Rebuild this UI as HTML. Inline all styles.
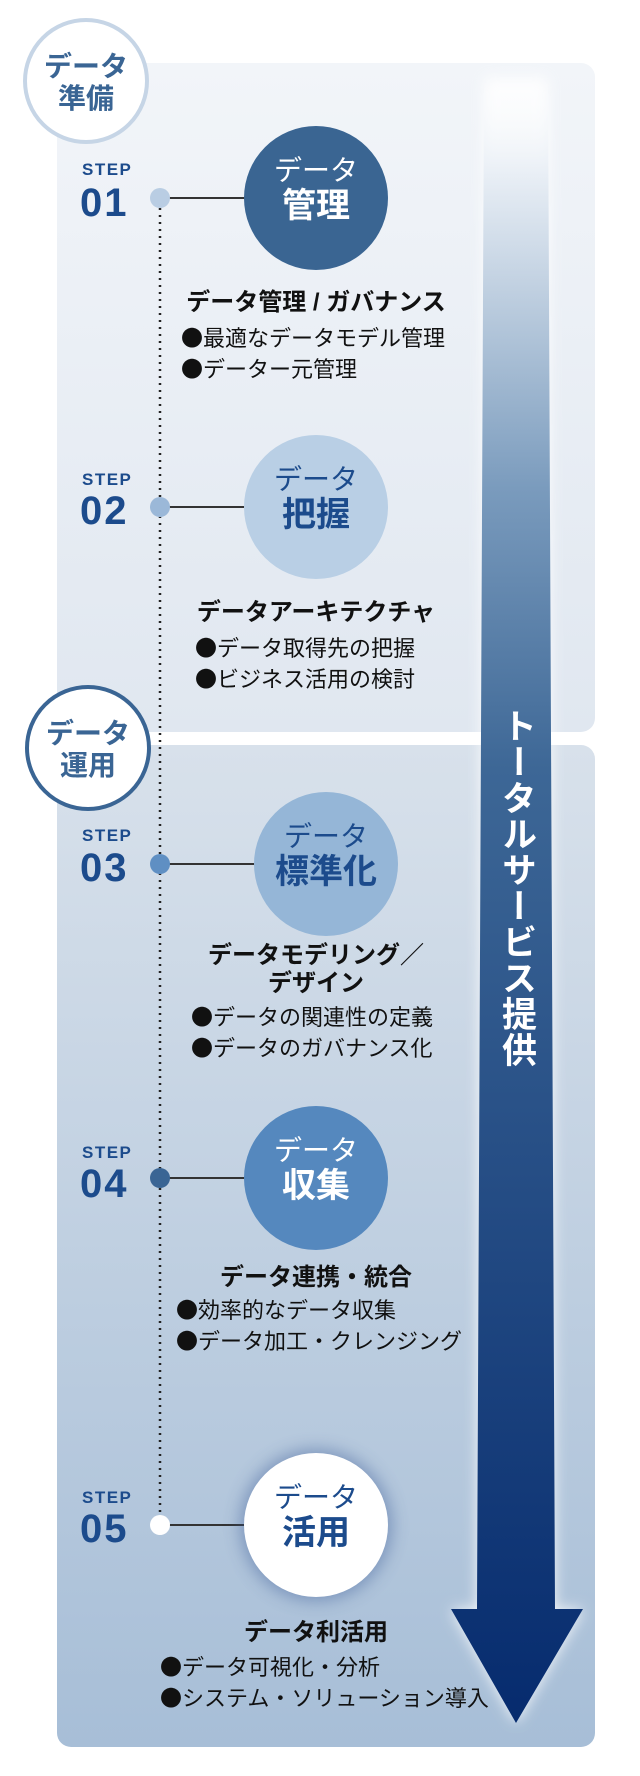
<!DOCTYPE html>
<html><head><meta charset="utf-8"><style>
*{margin:0;padding:0;box-sizing:border-box}
body{width:640px;height:1776px;background:#fff;position:relative;overflow:hidden;font-family:"Liberation Sans","Noto Sans CJK JP",sans-serif}
.a{position:absolute}
.p1{left:57px;top:63px;width:538px;height:669px;border-radius:14px;background:linear-gradient(#f2f5f9,#e0e7f0)}
.p2{left:57px;top:745px;width:538px;height:1002px;border-radius:14px;background:linear-gradient(#d8e1eb,#a7bed7)}
.lab{width:126px;height:126px;border-radius:50%;background:#fff;text-align:center;font-weight:bold;font-size:28px;line-height:32px;padding-top:29px}
.step{left:82px;font-size:17px;font-weight:bold;color:#1c4b8c;letter-spacing:1.5px}
.num{left:80px;font-size:40px;font-weight:bold;color:#1c4b8c;letter-spacing:2px;line-height:40px}
.dot{width:20px;height:20px;border-radius:50%;left:150px}
.ln{height:2px;background:#333;left:165px}
.c{width:144px;height:144px;border-radius:50%;text-align:center;font-weight:bold}
.c .t1{font-size:28px;line-height:30px;margin-top:30px;font-weight:normal}
.c .t2{font-size:34px;line-height:40px}
.h{font-size:24px;font-weight:bold;color:#111;text-align:center;width:400px;left:116px;line-height:28px}
.b{font-size:22px;color:#111;line-height:31px;white-space:nowrap;font-family:"Noto Sans CJK JP",sans-serif}
</style></head><body>
<div class="a p1"></div>
<div class="a p2"></div>

<svg class="a" style="left:0;top:0" width="640" height="1776">
<defs>
<linearGradient id="g" x1="0" y1="0" x2="0" y2="1">
<stop offset="0" stop-color="#fff" stop-opacity="0"/>
<stop offset="0.06" stop-color="#e8eef5"/>
<stop offset="0.25" stop-color="#7a9bbd"/>
<stop offset="0.42" stop-color="#3d6796"/>
<stop offset="1" stop-color="#062b6e"/>
</linearGradient>
<filter id="bl" x="-50%" y="-10%" width="200%" height="120%"><feGaussianBlur stdDeviation="7"/></filter>
</defs>
<path d="M484 77 L548 77 L555 1609 L583 1609 L516 1723 L451 1609 L477 1609 Z" fill="#fff" opacity="0.85" filter="url(#bl)"/>
<path d="M484 77 L548 77 L555 1609 L583 1609 L516 1723 L451 1609 L477 1609 Z" fill="url(#g)"/>
<line x1="160" y1="208" x2="160" y2="1512" stroke="#222" stroke-width="2.5" stroke-dasharray="2 5"/>
</svg>

<div class="a" style="left:498px;top:708px;width:36px;writing-mode:vertical-rl;font-size:35px;font-weight:bold;color:#fff;line-height:36px;letter-spacing:1px">トータルサービス提供</div>

<div class="a lab" style="left:23px;top:18px;border:4px solid #c6d5e6;color:#3a6594">データ<br>準備</div>
<div class="a lab" style="left:25px;top:685px;border:4px solid #3a6594;color:#3a6594">データ<br>運用</div>

<!-- step 1 -->
<div class="a step" style="top:160px">STEP</div>
<div class="a num" style="top:183px">01</div>
<div class="a ln" style="top:197px;width:80px"></div>
<div class="a dot" style="top:188px;background:#b9cde3"></div>
<div class="a c" style="left:244px;top:126px;background:#3a6592;color:#fff"><div class="t1">データ</div><div class="t2">管理</div></div>
<div class="a h" style="top:289px">データ管理 / ガバナンス</div>
<div class="a b" style="left:181px;top:322px">●最適なデータモデル管理<br>●データー元管理</div>

<!-- step 2 -->
<div class="a step" style="top:470px">STEP</div>
<div class="a num" style="top:491px">02</div>
<div class="a ln" style="top:506px;width:80px"></div>
<div class="a dot" style="top:497px;background:#9bb8d8"></div>
<div class="a c" style="left:244px;top:435px;background:#b9cfe5;color:#1c4b8c"><div class="t1">データ</div><div class="t2">把握</div></div>
<div class="a h" style="top:599px">データアーキテクチャ</div>
<div class="a b" style="left:195px;top:632px">●データ取得先の把握<br>●ビジネス活用の検討</div>

<!-- step 3 -->
<div class="a step" style="top:826px">STEP</div>
<div class="a num" style="top:848px">03</div>
<div class="a ln" style="top:863px;width:90px"></div>
<div class="a dot" style="top:854px;background:#5f8fc3"></div>
<div class="a c" style="left:254px;top:792px;background:#95b6d7;color:#1c4b8c"><div class="t1">データ</div><div class="t2">標準化</div></div>
<div class="a h" style="top:942px">データモデリング／<br>デザイン</div>
<div class="a b" style="left:191px;top:1001px">●データの関連性の定義<br>●データのガバナンス化</div>

<!-- step 4 -->
<div class="a step" style="top:1143px">STEP</div>
<div class="a num" style="top:1164px">04</div>
<div class="a ln" style="top:1177px;width:80px"></div>
<div class="a dot" style="top:1168px;background:#3a6594"></div>
<div class="a c" style="left:244px;top:1106px;background:#5588be;color:#fff"><div class="t1">データ</div><div class="t2">収集</div></div>
<div class="a h" style="top:1264px">データ連携・統合</div>
<div class="a b" style="left:176px;top:1294px">●効率的なデータ収集<br>●データ加工・クレンジング</div>

<!-- step 5 -->
<div class="a step" style="top:1488px">STEP</div>
<div class="a num" style="top:1509px">05</div>
<div class="a ln" style="top:1524px;width:80px"></div>
<div class="a dot" style="top:1515px;background:#fff"></div>
<div class="a c" style="left:244px;top:1453px;background:#fff;color:#1c4b8c;box-shadow:0 0 16px 4px rgba(60,90,150,0.45)"><div class="t1">データ</div><div class="t2">活用</div></div>
<div class="a h" style="top:1619px">データ利活用</div>
<div class="a b" style="left:160px;top:1651px">●データ可視化・分析<br>●システム・ソリューション導入</div>
</body></html>
